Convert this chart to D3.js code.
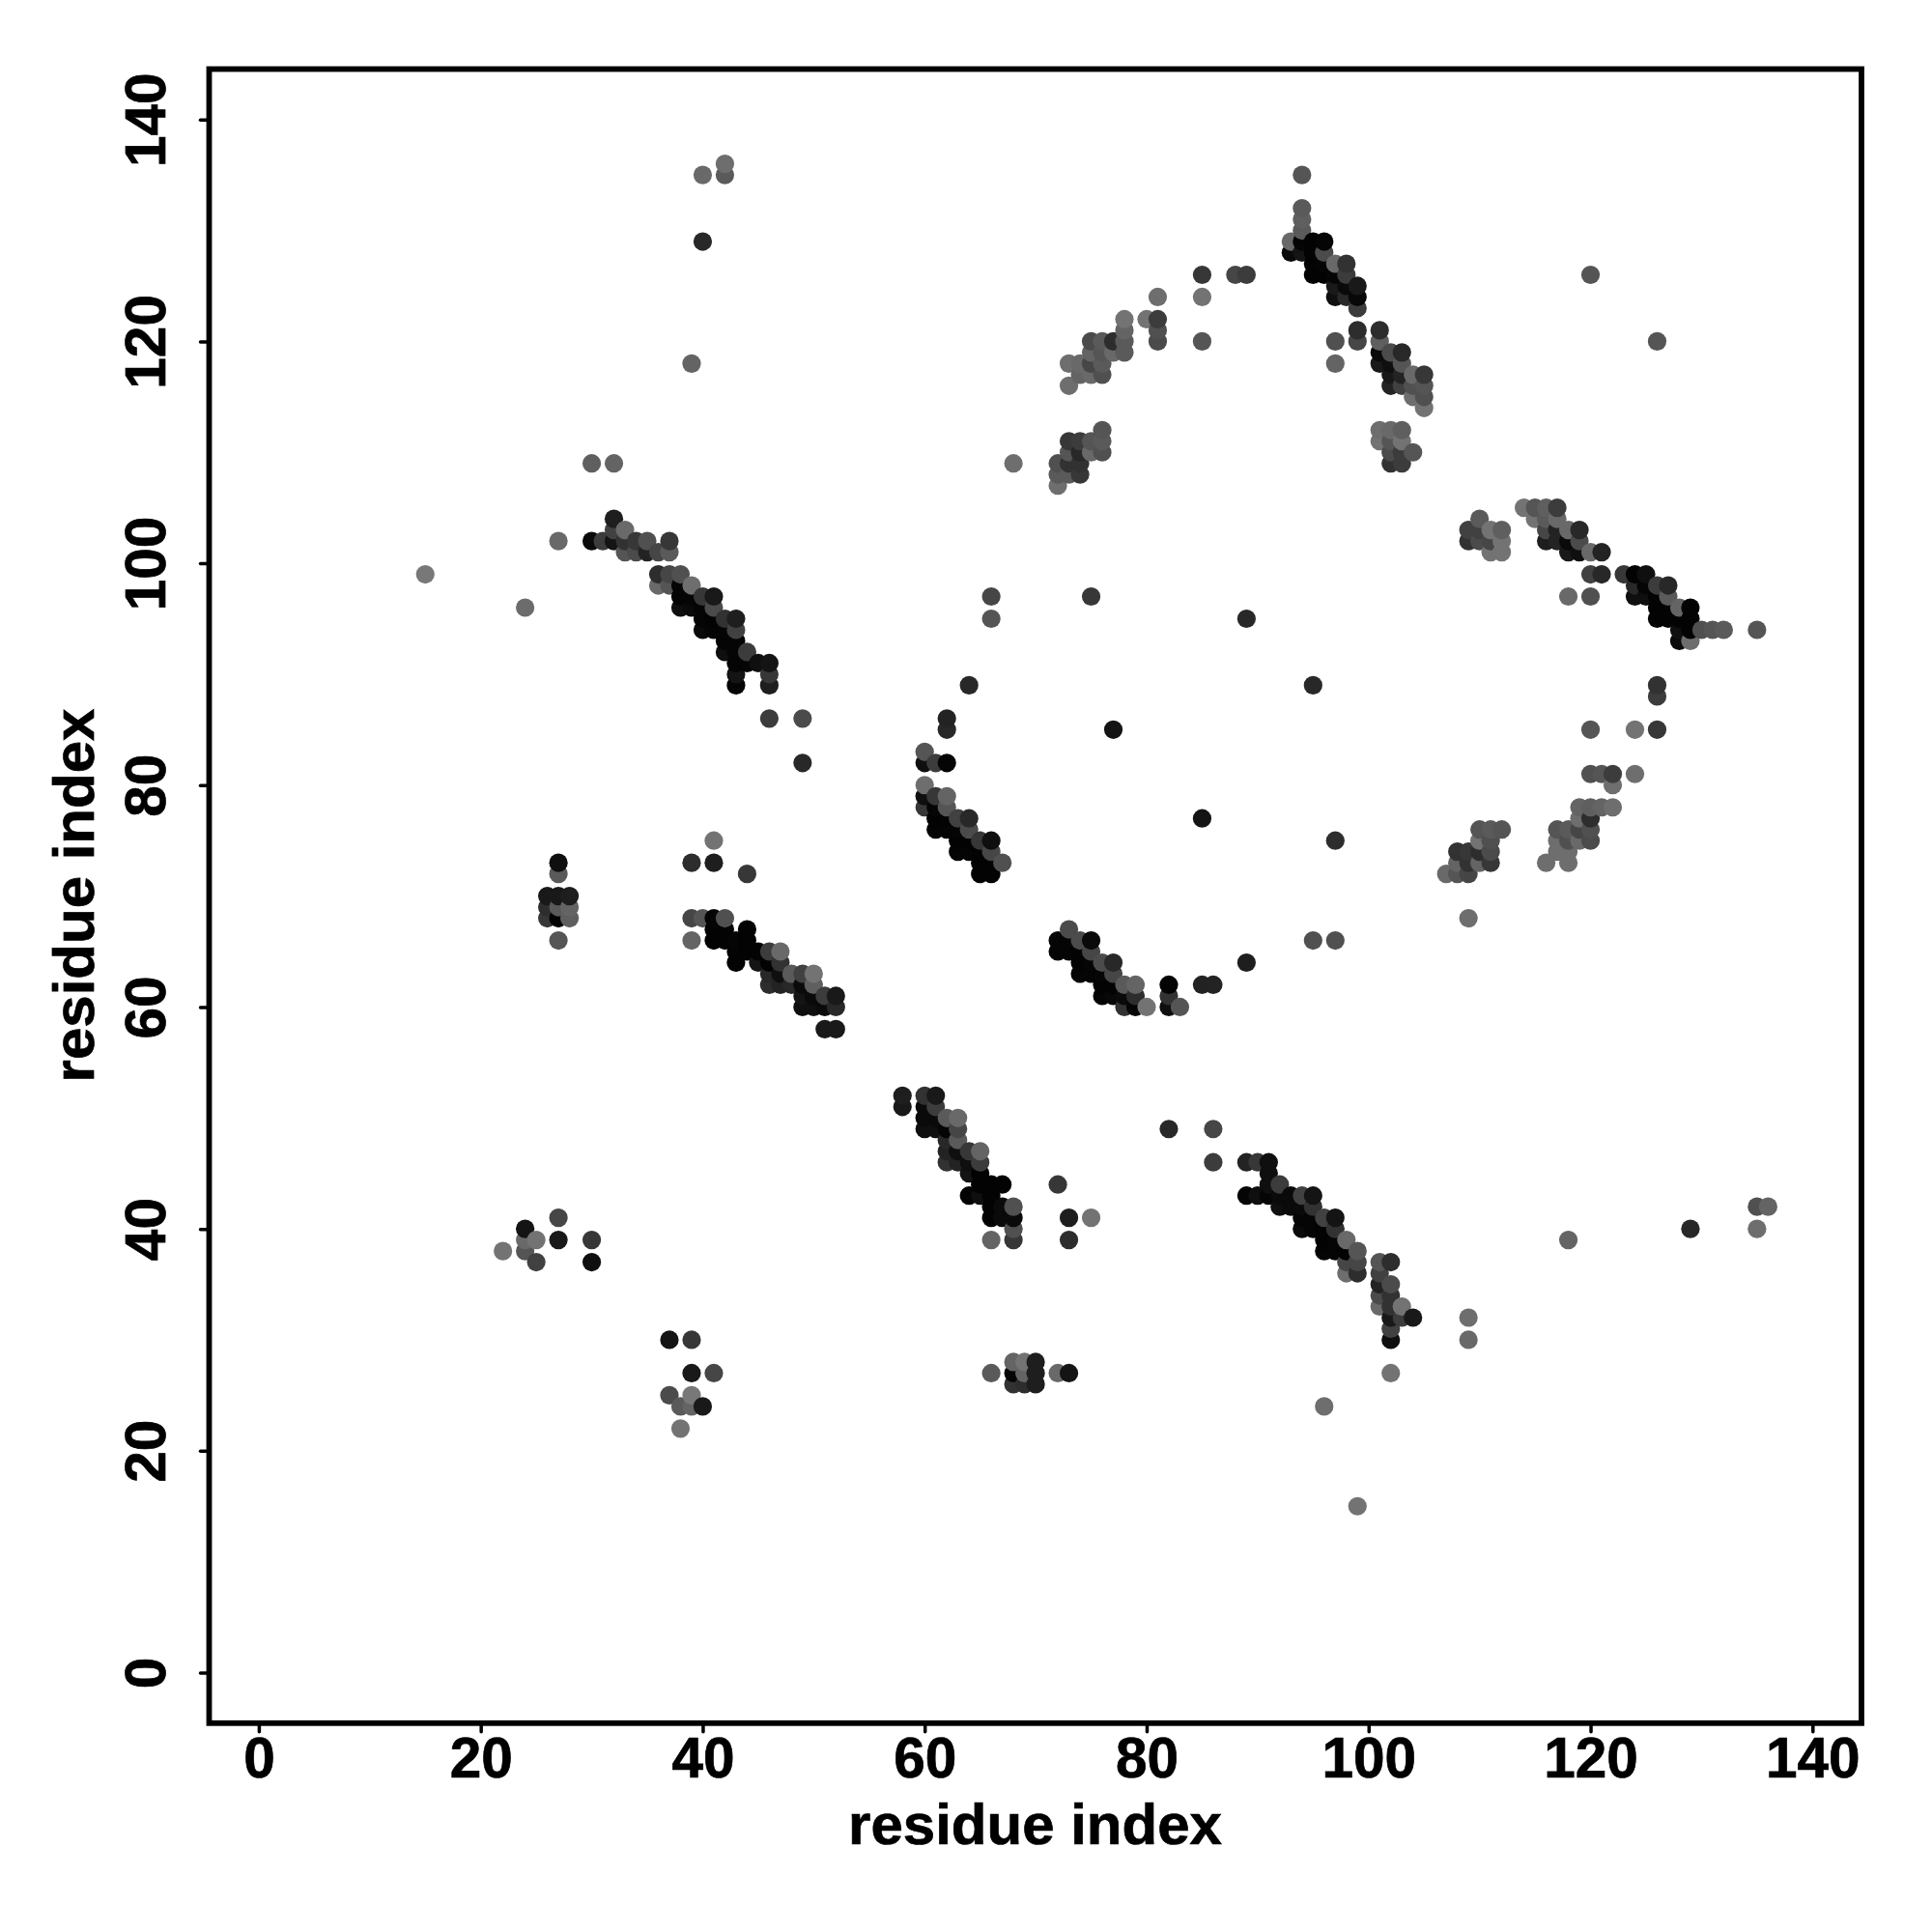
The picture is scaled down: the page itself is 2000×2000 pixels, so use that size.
<!DOCTYPE html>
<html><head><meta charset="utf-8"><script src="https://cdn.jsdelivr.net/npm/d3@7"></script>
<style>html,body{margin:0;background:#fff}svg{display:block}text{font-family:"Liberation Sans",Arial,sans-serif;font-weight:700;fill:#000;stroke:#000;stroke-width:0.7px}</style>
</head><body><svg id="c" width="2000" height="2000"></svg><script>
// each point: [residue i, residue j, grey level]
const strandUpperLeft=[[30,102,10],[31,102,60],[32,104,30],[32,103,65],[32,102,20],[33,103,105],[33,102,50],[33,101,85],[34,102,55],[34,101,75],[35,102,80],[35,101,35],[36,101,70],[37,102,55],[37,101,90],
[36,99,45],[36,98,105],[37,99,70],[37,98,85],[38,99,80],[38,98,5],[38,97,5],[38,96,15],[39,98,110],[39,97,5],[39,96,10],[40,97,55],[40,96,5],[40,95,5],[40,94,10],[41,97,25],[41,96,75],[41,95,3],[41,94,5],[42,95,50],[42,94,5],[42,93,5],[42,92,15],[43,95,30],[43,94,65],[43,93,5],[43,92,5],[43,91,5],[43,90,20],[43,89,5],[44,92,60],[44,91,5],[45,91,15],[46,91,20],[46,90,55],[46,89,30],[46,86,60],[49,86,75],[49,82,40]];
const strandTop=[[93,129,105],[93,128,10],[94,135,85],[94,132,90],[94,131,95],[94,130,90],[94,129,5],[94,128,20],[95,129,3],[95,128,3],[95,127,3],[95,126,3],[96,129,5],[96,128,75],[96,127,5],[96,126,3],[97,127,105],[97,126,5],[97,125,25],[97,124,15],[97,120,80],[97,118,100],[98,127,50],[98,126,60],[98,125,10],[98,124,40],[99,125,25],[99,124,8],[99,123,60],[99,121,45],[99,120,70],
[101,121,45],[101,120,95],[101,119,10],[101,118,25],[102,119,75],[102,118,15],[102,117,25],[102,116,35],[103,119,40],[103,118,85],[103,117,35],[103,116,65],[104,117,105],[104,116,80],[104,115,110],[105,117,55],[105,116,85],[105,115,80],[105,114,115],
[101,112,110],[101,111,115],[102,112,105],[102,111,85],[102,110,75],[102,109,50],[103,112,95],[103,111,115],[103,110,60],[103,109,60],[104,110,85]];
const arcUpper=[[68,109,110],[72,109,80],[72,108,90],[72,107,110],[73,111,55],[73,110,85],[73,109,50],[73,108,90],[74,111,60],[74,110,40],[74,109,50],[74,108,55],[75,111,85],[75,110,105],[76,112,85],[76,111,90],[76,110,80],
[73,118,110],[73,116,110],[74,118,105],[74,117,100],[75,120,75],[75,119,100],[75,118,70],[75,117,105],[76,120,90],[76,119,85],[76,118,90],[76,117,80],[77,120,45],[77,119,105],[78,122,115],[78,121,100],[78,120,90],[78,119,90],[80,122,115],[81,124,110],[81,122,60],[81,121,80],[81,120,75],[85,126,55],[85,124,115],[85,120,85],[88,126,70],[89,126,60]];
const strandRight=[[109,103,65],[109,102,50],[110,104,90],[110,103,65],[110,102,75],[111,103,115],[111,102,70],[111,101,115],[112,103,95],[112,102,115],[112,101,115],[114,105,115],[115,105,85],[115,104,115],[116,105,95],[116,104,90],[116,103,70],[116,102,30],[117,105,60],[117,104,105],[117,103,35],[117,102,35],[118,103,105],[118,102,10],[118,101,25],[118,97,105],[119,103,40],[119,102,75],[119,101,15],[120,101,105],[120,99,65],[120,97,80],[121,101,35],[121,99,40],
[123,99,55],[124,99,3],[124,98,40],[124,97,15],[125,99,15],[125,98,5],[125,97,15],[126,98,60],[126,97,3],[126,96,3],[126,95,3],[127,98,40],[127,97,90],[127,96,3],[127,95,3],[128,96,100],[128,95,3],[128,94,15],[128,93,10],[129,96,3],[129,95,3],[129,94,3],[129,93,110],[130,94,80],[131,94,85],[132,94,90],[135,94,85]];
const arcRight=[[107,72,105],[108,74,50],[108,73,100],[108,72,85],[109,74,55],[109,73,50],[109,72,70],[110,76,85],[110,75,115],[110,74,45],[110,73,100],[111,76,90],[111,75,80],[111,74,75],[111,73,55],[112,76,85],[116,73,110],[117,76,85],[117,75,110],[117,74,110],[118,76,90],[118,75,80],[118,74,110],[118,73,110],[119,78,100],[119,77,110],[119,76,70],[119,75,105],
[120,85,85],[120,81,80],[120,78,95],[120,77,45],[120,76,80],[120,75,75],[121,81,85],[121,78,100],[122,81,60],[122,80,110],[122,78,110],[124,85,115],[124,81,110],[126,89,50],[126,88,60],[126,85,55]];
const arcInnerLeft=[[60,83,85],[60,82,15],[61,82,60],[62,86,35],[62,85,40],[62,82,5],[60,80,110],[60,79,15],[60,78,55],[61,79,55],[61,78,5],[61,77,3],[61,76,5],[62,79,100],[62,78,85],[62,77,3],[62,76,5],[63,77,65],[63,76,5],[63,75,3],[63,74,5],[64,77,40],[64,76,75],[64,75,3],[64,74,5],[65,75,55],[65,74,3],[65,73,3],[65,72,3],[66,75,15],[66,74,70],[66,73,3],[66,72,3],[67,73,80]];
const arcInnerLower=[[72,66,5],[72,65,5],[73,67,75],[73,66,5],[73,65,5],[74,66,75],[74,65,3],[74,64,3],[74,63,5],[75,66,10],[75,65,70],[75,64,5],[75,63,5],[76,64,75],[76,63,5],[76,62,3],[76,61,5],[77,64,40],[77,63,70],[77,62,3],[77,61,8],[78,62,90],[78,61,10],[78,60,50],[79,62,100],[79,61,45],[79,60,5],[80,60,115],[82,62,3],[82,61,50],[82,60,15],[83,60,85],[85,62,35],[86,62,35],[89,64,30]];
const clusterMiddleLeft=[[26,70,25],[26,69,45],[26,68,55],[27,73,15],[27,72,90],[27,70,25],[27,69,90],[27,68,3],[27,66,85],[28,70,30],[28,69,100],[28,68,95]];
const strandMiddle=[[39,73,45],[41,75,115],[41,73,30],[44,72,55],[39,68,70],[39,66,100],[40,68,85],[41,68,5],[41,67,3],[41,66,3],[42,68,80],[42,67,3],[42,66,3],[43,66,5],[43,65,3],[43,64,3],[44,67,3],[44,66,3],[44,65,3],[45,65,3],[45,64,20],[46,65,60],[46,64,3],[46,63,40],[46,62,45],[47,65,105],[47,64,50],[47,63,15],[47,62,35],[48,63,90],[48,62,40],[49,63,65],[49,62,10],[49,61,20],[49,60,15],[50,63,115],[50,62,95],[50,61,10],[50,60,15],[51,61,60],[51,60,10],[51,58,25],[52,61,25],[52,60,40],[52,58,25]];
const strandLowerCentre=[[58,52,30],[58,51,25],[60,52,50],[60,51,10],[60,50,10],[60,49,15],[61,52,25],[61,51,60],[61,50,10],[61,49,15],[62,50,90],[62,49,5],[62,48,40],[62,47,35],[62,46,50],[63,50,105],[63,49,70],[63,48,90],[63,47,15],[63,46,35],[64,47,55],[64,46,15],[64,45,20],[64,43,3],[65,47,100],[65,46,60],[65,45,3],[65,44,3],[65,43,15],[66,44,3],[66,43,3],[66,42,3],[66,41,3],[66,39,100],[67,44,3],[67,42,10],[67,41,10],[68,42,80],[68,41,10],[68,40,80],[68,39,55],[72,44,55],[73,41,30],[73,39,45],[75,41,115],[82,49,40],[86,49,70],[86,46,60]];
const strandLowerRight=[[89,46,35],[89,43,5],[90,46,55],[90,43,15],[91,46,15],[91,45,15],[91,44,15],[91,43,5],[92,44,60],[92,43,10],[92,42,15],[93,43,10],[93,42,10],[94,43,65],[94,42,10],[94,41,5],[94,40,10],[95,43,20],[95,42,50],[95,41,5],[95,40,5],[96,41,65],[96,40,3],[96,39,3],[96,38,5],[97,41,20],[97,40,50],[97,39,5],[97,38,5],[98,39,105],[98,38,3],[98,37,70],[98,36,110],[99,38,85],[99,37,70],[99,36,45],[101,37,85],[101,36,65],[101,35,35],[101,34,75],[101,33,105],[102,37,45],[102,35,75],[102,34,50],[102,33,50],[102,32,25],[102,31,65],[102,30,15],[103,33,115],[103,32,60],[104,32,25],[109,32,110],[109,30,105]];
const clustersLowerLeft=[[22,38,115],[24,40,20],[24,39,105],[24,38,85],[25,39,115],[25,37,65],[27,41,70],[27,39,25],[30,39,55],[30,37,15],[37,30,20],[39,30,55],[39,27,25],[41,27,70],[37,25,75],[38,24,90],[39,25,120],[39,24,100],[40,24,25],[38,22,115]];
const clusterLowerMiddle=[[66,27,90],[68,28,100],[68,27,5],[68,26,50],[69,28,115],[69,27,100],[69,26,45],[70,28,30],[70,27,30],[70,26,30],[72,27,105],[73,27,20]];
const isolated=[[15,99,120],[24,96,108],[27,102,105],[30,109,95],[32,109,100],[40,135,105],[42,136,110],[42,135,90],[40,129,40],[39,118,100],[120,126,85],[126,120,85],[66,97,70],[66,95,85],[75,97,55],[89,95,40],[64,89,40],[95,89,40],[77,85,20],[85,77,20],[97,75,45],[109,68,110],[95,66,80],[97,66,80],[118,39,100],[129,40,40],[135,42,80],[136,42,100],[135,40,110],[96,24,110],[102,27,115],[99,15,115]];
const tickValues=[0,20,40,60,80,100,120,140];
const axisTitle="residue index";

const points=[strandUpperLeft,strandTop,arcUpper,strandRight,arcRight,arcInnerLeft,arcInnerLower,clusterMiddleLeft,strandMiddle,strandLowerCentre,strandLowerRight,clustersLowerLeft,clusterLowerMiddle,isolated].flat()
  .sort((a,b)=>d3.ascending(a[0],b[0])||d3.ascending(a[1],b[1]));

const x=d3.scaleLinear().domain([0,140]).range([267.9,1876.3]);
const y=d3.scaleLinear().domain([0,140]).range([1731.5,123.7]);
const frame={l:216.5,r:1927,t:71.5,b:1783.8};
const svg=d3.select("#c");

svg.append("g").selectAll("circle").data(points).join("circle")
  .attr("cx",d=>x(d[0])).attr("cy",d=>y(d[1])).attr("r",9.6)
  .attr("fill",d=>d3.rgb(d[2],d[2],d[2]));

svg.append("rect").attr("x",frame.l).attr("y",frame.t).attr("width",frame.r-frame.l).attr("height",frame.b-frame.t)
  .attr("fill","none").attr("stroke","#000").attr("stroke-width",5.8);

const tickFont=58.5, titleFont=60;
const ax=svg.append("g").attr("transform",`translate(0,${frame.b})`).call(d3.axisBottom(x).tickValues(tickValues).tickSize(9).tickFormat(d3.format("d")));
const ay=svg.append("g").attr("transform",`translate(${frame.l},0)`).call(d3.axisLeft(y).tickValues(tickValues).tickSize(9).tickFormat(d3.format("d")));
[ax,ay].forEach(a=>{a.select(".domain").remove();a.selectAll("line").attr("stroke","#000").attr("stroke-width",3.5).attr("stroke-linecap","round");
  a.selectAll("text").attr("font-size",tickFont).style("font-family",'"Liberation Sans"').style("font-weight",700).attr("fill","#000");});
ax.selectAll("text").attr("dy",null).attr("y",1840-frame.b).attr("text-anchor","middle");
ay.selectAll("text").attr("dy",null).attr("x",null).attr("y",null).attr("text-anchor","middle").attr("transform",`translate(${171-frame.l},0) rotate(-90)`);

svg.append("text").attr("x",1071.5).attr("y",1909).attr("text-anchor","middle").attr("font-size",titleFont).text(axisTitle);
svg.append("text").attr("transform","translate(97,927) rotate(-90)").attr("text-anchor","middle").attr("font-size",titleFont).text(axisTitle);
</script></body></html>
